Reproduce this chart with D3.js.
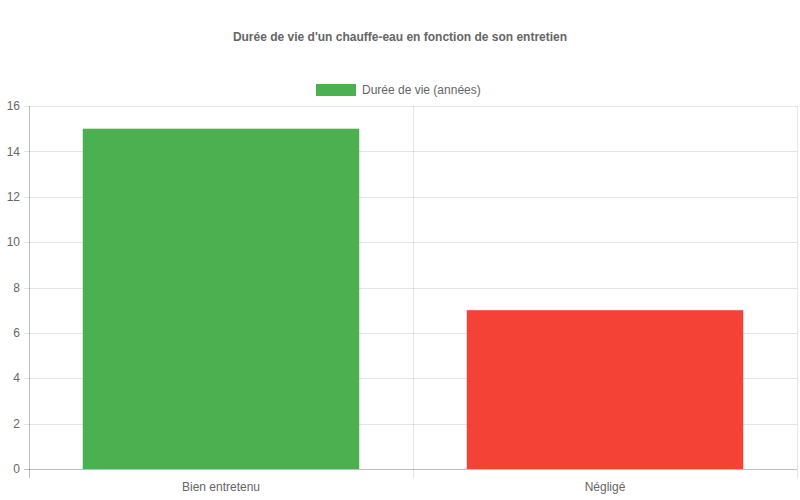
<!DOCTYPE html>
<html lang="fr">
<head>
<meta charset="UTF-8">
<title>Durée de vie d'un chauffe-eau</title>
<script src="https://cdn.jsdelivr.net/npm/d3@7"></script>
<style>
    body { margin: 0; background: white; }
    text { font-family: "Liberation Sans", Arial, sans-serif; fill: #666; }
</style>
</head>
<body>
<script>
    const categories = ["Bien entretenu", "Négligé"];
    const values = [15, 7];
    const barColors = ["#4CAF50", "#F44336"];
    const yTicks = [0, 2, 4, 6, 8, 10, 12, 14, 16];
    const seriesLabel = "Durée de vie (années)";
    const title = "Durée de vie d'un chauffe-eau en fonction de son entretien";

    const width = 800, height = 500;
    const margin = {top: 106, right: 3, bottom: 31, left: 29};

    const svg = d3.select("body").append("svg")
        .attr("width", width).attr("height", height);

    const x = d3.scaleBand().domain(categories)
        .range([margin.left, width - margin.right]);
    const y = d3.scaleLinear().domain([0, 16])
        .range([height - margin.bottom, margin.top]);

    // grid
    const grid = svg.append("g").attr("shape-rendering", "crispEdges");
    grid.selectAll("line.h").data(yTicks).join("line")
        .attr("x1", margin.left - 5).attr("x2", width - margin.right)
        .attr("y1", d => Math.round(y(d)) + 0.5).attr("y2", d => Math.round(y(d)) + 0.5)
        .attr("stroke", d => d === 0 ? "rgba(0,0,0,0.25)" : "rgba(0,0,0,0.1)");
    const xb = categories.map(c => x(c)).concat([x.range()[1]]);
    grid.selectAll("line.v").data(xb).join("line")
        .attr("x1", d => Math.round(d) + 0.5).attr("x2", d => Math.round(d) + 0.5)
        .attr("y1", margin.top).attr("y2", height - margin.bottom + 9)
        .attr("stroke", (d, i) => i === 0 ? "rgba(0,0,0,0.25)" : "rgba(0,0,0,0.1)");

    // bars
    const bw = x.bandwidth() * 0.72;
    svg.append("g").selectAll("rect").data(values).join("rect")
        .attr("x", (d, i) => x(categories[i]) + (x.bandwidth() - bw) / 2)
        .attr("width", bw)
        .attr("y", d => y(d))
        .attr("height", d => y(0) - y(d))
        .attr("fill", (d, i) => barColors[i]);

    // y labels
    svg.append("g").selectAll("text").data(yTicks).join("text")
        .attr("x", margin.left - 9).attr("y", d => y(d))
        .attr("dy", "0.35em").attr("text-anchor", "end")
        .style("font-size", "12px").text(d => d);

    // x labels
    svg.append("g").selectAll("text").data(categories).join("text")
        .attr("x", d => x(d) + x.bandwidth() / 2).attr("y", height - margin.bottom + 18)
        .attr("dy", "0.35em").attr("text-anchor", "middle")
        .style("font-size", "12px").text(d => d);

    // title
    svg.append("text").attr("x", width / 2).attr("y", 37).attr("dy", "0.35em")
        .attr("text-anchor", "middle").style("font-size", "12px").style("font-weight", "bold")
        .text(title);

    // legend
    const legend = svg.append("g");
    legend.append("rect").attr("x", 316).attr("y", 84).attr("width", 40).attr("height", 12)
        .attr("fill", barColors[0]);
    legend.append("text").attr("x", 362).attr("y", 90).attr("dy", "0.35em")
        .style("font-size", "12px").text(seriesLabel);
</script>
</body>
</html>
